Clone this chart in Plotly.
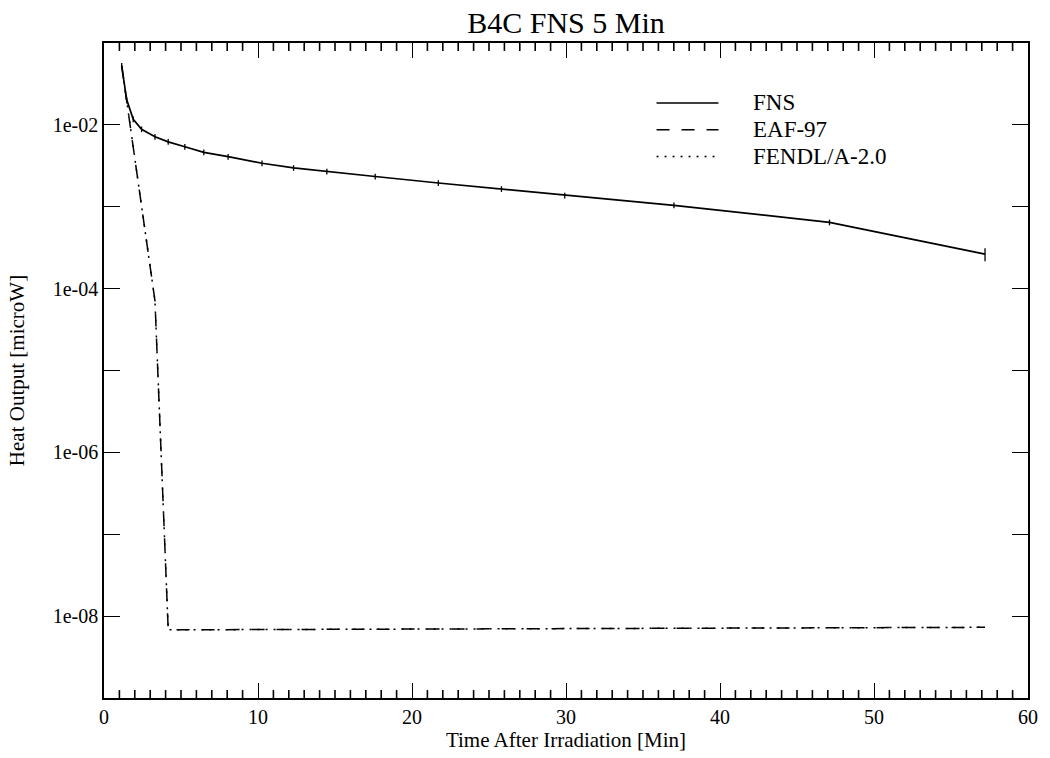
import plotly.graph_objects as go

# Decay heat after a 5 minute FNS irradiation of B4C
time_min = [1.15, 1.47, 1.90, 2.44, 3.31, 4.17, 5.25, 6.48, 8.06, 10.26,
            12.31, 14.47, 17.61, 21.71, 25.81, 29.92, 37.01, 47.11, 57.21]

fns_heat = [0.0527, 0.0204, 0.0117, 0.00885, 0.00714, 0.00621, 0.00540,
            0.00462, 0.00409, 0.00340, 0.00298, 0.00269, 0.00234, 0.00195,
            0.00165, 0.00137, 0.00104, 0.000645, 0.000264]
fns_err_pct = [8, 8, 8, 8, 8, 8, 8, 8, 8, 8, 8, 8, 8, 8, 8, 8, 8, 8, 18]

calc_time = [1.15, 1.47, 1.90, 2.44, 3.31, 4.17, 21.71, 37.01, 57.21]
eaf97_heat = [0.0527, 0.0195, 0.00527, 0.00100, 7.1e-5, 6.8e-9, 6.95e-9,
              7.1e-9, 7.3e-9]
fendl_heat = [0.0527, 0.0195, 0.00527, 0.00100, 7.1e-5, 6.8e-9, 6.95e-9,
              7.1e-9, 7.3e-9]

x_tickvals = [0, 10, 20, 30, 40, 50, 60]
x_minorvals = [m for m in range(0, 61) if m % 10]
y_tickvals = [1e-8, 1e-6, 1e-4, 1e-2]
y_ticktext = ["1e-08", "1e-06", "1e-04", "1e-02"]
y_minorvals = [1e-9, 1e-7, 1e-5, 1e-3, 1e-1]

legend_names = ["FNS", "EAF-97", "FENDL/A-2.0"]

SERIF = "Liberation Serif, Times New Roman, serif"
EAF_DASH = "13px,12px"
FENDL_DASH = "2px,6px"

fig = go.Figure()

fig.add_trace(go.Scatter(
    x=time_min, y=fns_heat, name=legend_names[0], mode="lines",
    line=dict(color="black", width=1.7),
    error_y=dict(type="data", symmetric=True,
                 array=[v * p / 100 for v, p in zip(fns_heat, fns_err_pct)],
                 color="black", thickness=1.3, width=0),
    showlegend=False,
))
fig.add_trace(go.Scatter(
    x=calc_time, y=eaf97_heat, name=legend_names[1], mode="lines",
    line=dict(color="black", width=1.5, dash=EAF_DASH), showlegend=False,
))
fig.add_trace(go.Scatter(
    x=calc_time, y=fendl_heat, name=legend_names[2], mode="lines",
    line=dict(color="black", width=1.5, dash=FENDL_DASH), showlegend=False,
))

# Short 1-minute ticks on the bottom and top frame lines (8 px long)
for m in x_minorvals:
    fig.add_shape(type="line", xref="x", yref="y domain",
                  x0=m, x1=m, y0=0, y1=0.0121,
                  line=dict(color="black", width=1.6), layer="above")
    fig.add_shape(type="line", xref="x", yref="y domain",
                  x0=m, x1=m, y0=0.9879, y1=1,
                  line=dict(color="black", width=1.6), layer="above")

# Hand-drawn legend block in the upper right of the plot area
legend_rows = [0.9085, 0.8676, 0.8268]
legend_dashes = ["solid", EAF_DASH, FENDL_DASH]
for name, ypos, dash in zip(legend_names, legend_rows, legend_dashes):
    fig.add_shape(type="line", xref="paper", yref="paper",
                  x0=0.598, x1=0.665, y0=ypos, y1=ypos,
                  line=dict(color="black", width=1.5, dash=dash))
    fig.add_annotation(x=0.700, y=ypos, xref="paper", yref="paper",
                       text=name, showarrow=False, xanchor="left",
                       yanchor="middle",
                       font=dict(family=SERIF, size=23, color="black"))

fig.update_layout(
    width=1050, height=758,
    margin=dict(l=104, r=20, t=43, b=54),
    paper_bgcolor="white", plot_bgcolor="white",
    title=dict(text="B4C FNS 5 Min", x=0.5, xref="paper", xanchor="center",
               y=1 - 22 / 758, yref="container", yanchor="middle",
               font=dict(family=SERIF, size=30, color="black")),
    font=dict(family=SERIF, color="black"),
    xaxis=dict(
        range=[0, 60], tickmode="array", tickvals=x_tickvals,
        ticks="inside", ticklen=15, tickwidth=1.4, tickcolor="black",
        showline=True, linecolor="black", linewidth=1.6, mirror="allticks",
        showgrid=False, zeroline=False,
        tickfont=dict(family=SERIF, size=20, color="black"),
        title=dict(text="Time After Irradiation [Min]", standoff=4,
                   font=dict(family=SERIF, size=21, color="black")),
    ),
    yaxis=dict(
        type="log", range=[-9, -1], tickmode="array",
        tickvals=y_tickvals, ticktext=y_ticktext,
        ticks="inside", ticklen=16, tickwidth=1.4, tickcolor="black",
        showline=True, linecolor="black", linewidth=1.6, mirror="allticks",
        showgrid=False, zeroline=False,
        tickfont=dict(family=SERIF, size=20, color="black"),
        minor=dict(tickmode="array", tickvals=y_minorvals, ticks="inside",
                   ticklen=16, tickwidth=1.2, tickcolor="black",
                   showgrid=False),
        title=dict(text="Heat Output [microW]", standoff=22,
                   font=dict(family=SERIF, size=21, color="black")),
    ),
)

fig.write_html("out.html")
